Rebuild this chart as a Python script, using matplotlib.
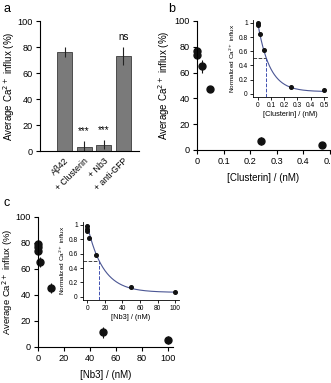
import numpy as np
import matplotlib
matplotlib.use('Agg')
import matplotlib.pyplot as plt

plt.rcParams['font.family'] = ['Liberation Sans', 'DejaVu Sans']

# panel a: bar chart
bar_labels = ['Aβ42', '+ Clusterin', '+ Nb3', '+ anti-GFP']
bar_means = [76, 3, 5, 73]
bar_errs = [4, 4.5, 3.5, 7]
bar_sig = ['', '***', '***', 'ns']

# panel b: clusterin titration
clu_conc = [0, 0, 0.019, 0.048, 0.24, 0.47]
clu_influx = [77, 74, 65, 47, 7, 4]
clu_err = [3, 3, 5, 2, 3, 1]
clu_norm_conc = [0, 0, 0.02, 0.05, 0.25, 0.5]
clu_norm = [1.0, 0.97, 0.84, 0.61, 0.09, 0.05]
clu_ic50, clu_floor = 0.065, 0.03

# panel c: Nb3 titration
nb_conc = [0, 0, 0, 2, 10, 50, 100]
nb_influx = [79, 77, 74, 65, 45, 11, 5]
nb_err = [2, 2, 2, 4, 4, 4, 3]
nb_norm_conc = [0, 0, 0, 2, 10, 50, 100]
nb_norm = [0.99, 0.95, 0.92, 0.82, 0.58, 0.14, 0.07]
nb_ic50, nb_floor = 13.5, 0.06

W, H = 331, 383
FS = 6.6     # tick labels
LFS = 7.0    # axis labels
IFS = 4.8    # inset text
fig = plt.figure(figsize=(W / 100, H / 100), dpi=100)


def box(x0, y0, x1, y1):
    # pixel box (top-left origin) -> figure fraction
    return [x0 / W, 1 - y1 / H, (x1 - x0) / W, (y1 - y0) / H]


def style(ax, fs):
    for s in ['top', 'right']:
        ax.spines[s].set_visible(False)
    for s in ['left', 'bottom']:
        ax.spines[s].set_linewidth(0.8)
    ax.tick_params(labelsize=fs, width=0.8, length=3, pad=2)


def decay(x, ic50, floor):
    tau = ic50 / np.log((1 - floor) / (0.5 - floor))
    return floor + (1 - floor) * np.exp(-x / tau)


ylab = 'Average Ca$^{2+}$ influx (%)'

# ---- a ----
ax = fig.add_axes(box(40, 21, 139, 151))
style(ax, FS)
xs = np.arange(len(bar_labels))
ax.bar(xs, bar_means, width=0.77, color='#7a7a7a', edgecolor='#3a3a3a', linewidth=0.6)
ax.errorbar(xs, bar_means, yerr=bar_errs, fmt='none', ecolor='#222222', elinewidth=0.8, capsize=0)
for x, m, e, s in zip(xs, bar_means, bar_errs, bar_sig):
    if s:
        ax.text(x, m + e + 4, s, ha='center', va='bottom', fontsize=LFS)
ax.set_xlim(-1.25, 3.8)
ax.set_ylim(0, 100)
ax.set_yticks([0, 20, 40, 60, 80, 100])
ax.set_xticks(xs)
ax.set_xticklabels(bar_labels, rotation=45, ha='right', rotation_mode='anchor', fontsize=6.2)
ax.tick_params(axis='x', length=0, pad=4)
ax.set_ylabel(ylab, fontsize=LFS)
ax.yaxis.set_label_coords(-0.237, 0.5)
fig.text(4 / W, 1 - 12 / H, 'a', fontsize=9)

# ---- b ----
ax = fig.add_axes(box(197, 21, 329.7, 150))
style(ax, FS)
ax.errorbar(clu_conc, clu_influx, yerr=clu_err, fmt='o', color='#111111', ms=5,
            elinewidth=0.8, capsize=0, clip_on=False)
ax.set_xlim(0, 0.5)
ax.set_ylim(0, 100)
ax.set_xticks([0, 0.1, 0.2, 0.3, 0.4, 0.5])
ax.set_xticklabels(['0', '0.1', '0.2', '0.3', '0.4', '0.5'])
ax.set_yticks([0, 20, 40, 60, 80, 100])
ax.set_xlabel('[Clusterin] / (nM)', fontsize=LFS, labelpad=5)
ax.set_ylabel(ylab, fontsize=LFS)
ax.yaxis.set_label_coords(-0.19, 0.5)
fig.text(168 / W, 1 - 12 / H, 'b', fontsize=9)

ins = fig.add_axes(box(252.7, 20, 327, 97.3))
style(ins, IFS)
ins.tick_params(length=2, width=0.6, pad=1.5)
for s in ['left', 'bottom']:
    ins.spines[s].set_linewidth(0.6)
xx = np.linspace(0, 0.5, 200)
ins.plot(xx, decay(xx, clu_ic50, clu_floor), color='#4b5694', lw=0.8)
ins.plot([-0.038, clu_ic50], [0.5, 0.5], ls='--', color='#444444', lw=0.7)
ins.plot([clu_ic50, clu_ic50], [-0.05, 0.5], ls='--', color='#3f4fb0', lw=0.7)
ins.plot(clu_norm_conc, clu_norm, 'o', color='#111111', ms=2.6)
ins.set_xlim(-0.038, 0.5226)
ins.set_ylim(-0.05, 1.04)
ins.set_xticks([0, 0.1, 0.2, 0.3, 0.4, 0.5])
ins.set_xticklabels(['0', '0.1', '0.2', '0.3', '0.4', '0.5'])
ins.set_yticks([0, 0.2, 0.4, 0.6, 0.8, 1])
ins.set_yticklabels(['0', '0.2', '0.4', '0.6', '0.8', '1'])
ins.set_xlabel('[Clusterin] / (nM)', fontsize=5.3, labelpad=1.5)
ins.set_ylabel('Normalized Ca$^{2+}$ influx', fontsize=4.6, labelpad=1.5)

# ---- c ----
ax = fig.add_axes(box(37.7, 216.7, 173, 346.7))
style(ax, FS)
ax.errorbar(nb_conc, nb_influx, yerr=nb_err, fmt='o', color='#111111', ms=5,
            elinewidth=0.8, capsize=0, clip_on=False)
ax.set_xlim(0, 104)
ax.set_ylim(0, 100)
ax.set_xticks([0, 20, 40, 60, 80, 100])
ax.set_yticks([0, 20, 40, 60, 80, 100])
ax.set_xlabel('[Nb3] / (nM)', fontsize=LFS, labelpad=5)
ax.set_ylabel(ylab, fontsize=6.8)
ax.yaxis.set_label_coords(-0.168, 0.5)
fig.text(3 / W, 1 - 206 / H, 'c', fontsize=9)

ins = fig.add_axes(box(82.7, 221.7, 179, 300))
style(ins, IFS)
ins.tick_params(length=2, width=0.6, pad=1.5)
for s in ['left', 'bottom']:
    ins.spines[s].set_linewidth(0.6)
xx = np.linspace(0, 100, 200)
ins.plot(xx, decay(xx, nb_ic50, nb_floor), color='#4b5694', lw=0.8)
ins.plot([-5.2, nb_ic50], [0.5, 0.5], ls='--', color='#444444', lw=0.7)
ins.plot([nb_ic50, nb_ic50], [-0.046, 0.5], ls='--', color='#3f4fb0', lw=0.7)
ins.plot(nb_norm_conc, nb_norm, 'o', color='#111111', ms=2.6)
ins.set_xlim(-5.2, 104.2)
ins.set_ylim(-0.046, 1.046)
ins.set_xticks([0, 20, 40, 60, 80, 100])
ins.set_yticks([0, 0.2, 0.4, 0.6, 0.8, 1])
ins.set_yticklabels(['0', '0.2', '0.4', '0.6', '0.8', '1'])
ins.set_xlabel('[Nb3] / (nM)', fontsize=5.3, labelpad=1.5)
ins.set_ylabel('Normalized Ca$^{2+}$ influx', fontsize=4.6, labelpad=1.5)

fig.savefig('out.png', dpi=100)
